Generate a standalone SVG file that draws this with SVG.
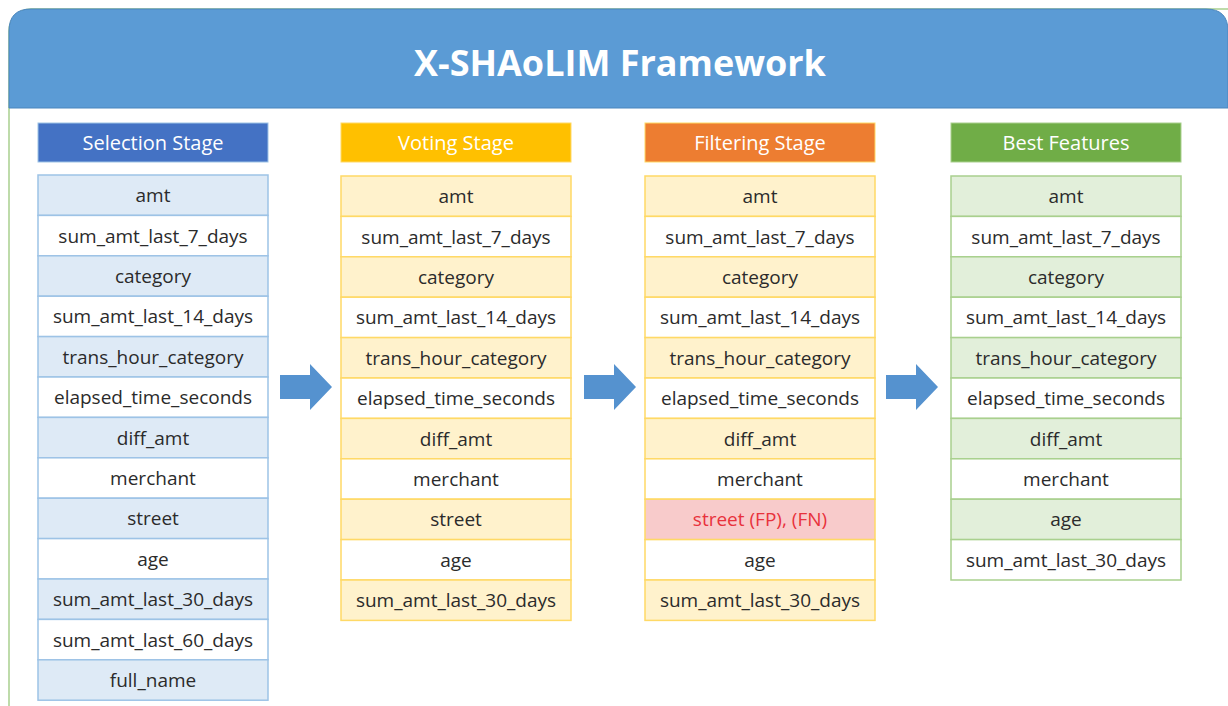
<svg xmlns="http://www.w3.org/2000/svg" width="1228" height="706" viewBox="0 0 1228 706">
  <style>
    .cell { stroke-width: 1.5; }
    .blue .f { fill: #DEEAF6; } .blue rect { stroke: #9DC3E6; }
    .gold .f { fill: #FFF2CC; } .gold rect { stroke: #FFD966; }
    .green .f { fill: #E2EFDA; } .green rect { stroke: #A9D08E; }
    .w { fill: #FFFFFF; }
    .bad { fill: #F8CBCB; }
    text { font-family: "Open Sans", "Noto Sans", "Liberation Sans", sans-serif; text-anchor: middle; dominant-baseline: central; }
    .lbl { font-size: 19px; fill: #2B2B2B; }
    .red { fill: #E8323C; }
    .hd { font-size: 20px; fill: #FFFFFF; }
    .title { font-size: 36px; fill: #FFFFFF; font-weight: 700; }
  </style>
  <defs>
    <path id="blockArrow" d="M0,-12 L30,-12 L30,-23 L52,0 L30,23 L30,12 L0,12 Z" fill="#5592CF"/>
  </defs>

  <!-- frame and title band -->
  <rect x="9" y="9" width="1240" height="720" rx="22" fill="#FFFFFF" stroke="#A9D08E" stroke-width="1.5"/>
  <path d="M9,108 L9,31 Q9,9 31,9 L1206,9 Q1228,9 1228,31 L1228,108 Z" fill="#5B9BD5" stroke="#4A85BD" stroke-width="1"/>
  <text class="title" x="620" y="62">X-SHAoLIM Framework</text>

  <!-- Selection Stage -->
  <g id="selection" class="blue">
    <rect x="38" y="123" width="230" height="39" fill="#4472C4" stroke="#3A63AE"/>
    <text class="hd" x="153" y="142.5">Selection Stage</text>
    <rect class="cell f" x="38" y="175" width="230" height="40.4"/><text class="lbl" x="153" y="195.2">amt</text>
    <rect class="cell w" x="38" y="215.4" width="230" height="40.4"/><text class="lbl" x="153" y="235.6">sum_amt_last_7_days</text>
    <rect class="cell f" x="38" y="255.8" width="230" height="40.4"/><text class="lbl" x="153" y="276">category</text>
    <rect class="cell w" x="38" y="296.2" width="230" height="40.4"/><text class="lbl" x="153" y="316.4">sum_amt_last_14_days</text>
    <rect class="cell f" x="38" y="336.6" width="230" height="40.4"/><text class="lbl" x="153" y="356.8">trans_hour_category</text>
    <rect class="cell w" x="38" y="377" width="230" height="40.4"/><text class="lbl" x="153" y="397.2">elapsed_time_seconds</text>
    <rect class="cell f" x="38" y="417.4" width="230" height="40.4"/><text class="lbl" x="153" y="437.6">diff_amt</text>
    <rect class="cell w" x="38" y="457.8" width="230" height="40.4"/><text class="lbl" x="153" y="478">merchant</text>
    <rect class="cell f" x="38" y="498.2" width="230" height="40.4"/><text class="lbl" x="153" y="518.4">street</text>
    <rect class="cell w" x="38" y="538.6" width="230" height="40.4"/><text class="lbl" x="153" y="558.8">age</text>
    <rect class="cell f" x="38" y="579" width="230" height="40.4"/><text class="lbl" x="153" y="599.2">sum_amt_last_30_days</text>
    <rect class="cell w" x="38" y="619.4" width="230" height="40.4"/><text class="lbl" x="153" y="639.6">sum_amt_last_60_days</text>
    <rect class="cell f" x="38" y="659.8" width="230" height="40.4"/><text class="lbl" x="153" y="680">full_name</text>
  </g>

  <!-- Voting Stage -->
  <g id="voting" class="gold">
    <rect x="341" y="123" width="230" height="39" fill="#FFC000" stroke="#E5AD00"/>
    <text class="hd" x="456" y="142.5">Voting Stage</text>
    <rect class="cell f" x="341" y="176" width="230" height="40.4"/><text class="lbl" x="456" y="196.2">amt</text>
    <rect class="cell w" x="341" y="216.4" width="230" height="40.4"/><text class="lbl" x="456" y="236.6">sum_amt_last_7_days</text>
    <rect class="cell f" x="341" y="256.8" width="230" height="40.4"/><text class="lbl" x="456" y="277">category</text>
    <rect class="cell w" x="341" y="297.2" width="230" height="40.4"/><text class="lbl" x="456" y="317.4">sum_amt_last_14_days</text>
    <rect class="cell f" x="341" y="337.6" width="230" height="40.4"/><text class="lbl" x="456" y="357.8">trans_hour_category</text>
    <rect class="cell w" x="341" y="378" width="230" height="40.4"/><text class="lbl" x="456" y="398.2">elapsed_time_seconds</text>
    <rect class="cell f" x="341" y="418.4" width="230" height="40.4"/><text class="lbl" x="456" y="438.6">diff_amt</text>
    <rect class="cell w" x="341" y="458.8" width="230" height="40.4"/><text class="lbl" x="456" y="479">merchant</text>
    <rect class="cell f" x="341" y="499.2" width="230" height="40.4"/><text class="lbl" x="456" y="519.4">street</text>
    <rect class="cell w" x="341" y="539.6" width="230" height="40.4"/><text class="lbl" x="456" y="559.8">age</text>
    <rect class="cell f" x="341" y="580" width="230" height="40.4"/><text class="lbl" x="456" y="600.2">sum_amt_last_30_days</text>
  </g>

  <!-- Filtering Stage -->
  <g id="filtering" class="gold">
    <rect x="645" y="123" width="230" height="39" fill="#ED7D31" stroke="#D66C25"/>
    <text class="hd" x="760" y="142.5">Filtering Stage</text>
    <rect class="cell f" x="645" y="176" width="230" height="40.4"/><text class="lbl" x="760" y="196.2">amt</text>
    <rect class="cell w" x="645" y="216.4" width="230" height="40.4"/><text class="lbl" x="760" y="236.6">sum_amt_last_7_days</text>
    <rect class="cell f" x="645" y="256.8" width="230" height="40.4"/><text class="lbl" x="760" y="277">category</text>
    <rect class="cell w" x="645" y="297.2" width="230" height="40.4"/><text class="lbl" x="760" y="317.4">sum_amt_last_14_days</text>
    <rect class="cell f" x="645" y="337.6" width="230" height="40.4"/><text class="lbl" x="760" y="357.8">trans_hour_category</text>
    <rect class="cell w" x="645" y="378" width="230" height="40.4"/><text class="lbl" x="760" y="398.2">elapsed_time_seconds</text>
    <rect class="cell f" x="645" y="418.4" width="230" height="40.4"/><text class="lbl" x="760" y="438.6">diff_amt</text>
    <rect class="cell w" x="645" y="458.8" width="230" height="40.4"/><text class="lbl" x="760" y="479">merchant</text>
    <rect class="cell bad" x="645" y="499.2" width="230" height="40.4"/><text class="lbl red" x="760" y="519.4">street (FP), (FN)</text>
    <rect class="cell w" x="645" y="539.6" width="230" height="40.4"/><text class="lbl" x="760" y="559.8">age</text>
    <rect class="cell f" x="645" y="580" width="230" height="40.4"/><text class="lbl" x="760" y="600.2">sum_amt_last_30_days</text>
  </g>

  <!-- Best Features -->
  <g id="best" class="green">
    <rect x="951" y="123" width="230" height="39" fill="#70AD47" stroke="#5F963B"/>
    <text class="hd" x="1066" y="142.5">Best Features</text>
    <rect class="cell f" x="951" y="176" width="230" height="40.4"/><text class="lbl" x="1066" y="196.2">amt</text>
    <rect class="cell w" x="951" y="216.4" width="230" height="40.4"/><text class="lbl" x="1066" y="236.6">sum_amt_last_7_days</text>
    <rect class="cell f" x="951" y="256.8" width="230" height="40.4"/><text class="lbl" x="1066" y="277">category</text>
    <rect class="cell w" x="951" y="297.2" width="230" height="40.4"/><text class="lbl" x="1066" y="317.4">sum_amt_last_14_days</text>
    <rect class="cell f" x="951" y="337.6" width="230" height="40.4"/><text class="lbl" x="1066" y="357.8">trans_hour_category</text>
    <rect class="cell w" x="951" y="378" width="230" height="40.4"/><text class="lbl" x="1066" y="398.2">elapsed_time_seconds</text>
    <rect class="cell f" x="951" y="418.4" width="230" height="40.4"/><text class="lbl" x="1066" y="438.6">diff_amt</text>
    <rect class="cell w" x="951" y="458.8" width="230" height="40.4"/><text class="lbl" x="1066" y="479">merchant</text>
    <rect class="cell f" x="951" y="499.2" width="230" height="40.4"/><text class="lbl" x="1066" y="519.4">age</text>
    <rect class="cell w" x="951" y="539.6" width="230" height="40.4"/><text class="lbl" x="1066" y="559.8">sum_amt_last_30_days</text>
  </g>

  <!-- stage-to-stage arrows -->
  <g id="connectors">
    <use href="#blockArrow" x="280" y="387"/>
    <use href="#blockArrow" x="584" y="387"/>
    <use href="#blockArrow" x="886" y="387"/>
  </g>
</svg>
